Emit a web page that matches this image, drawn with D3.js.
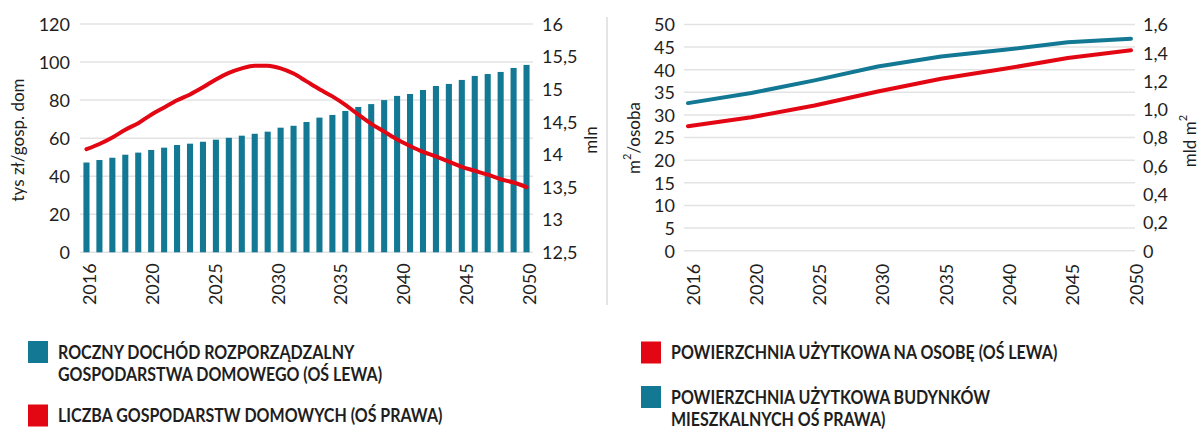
<!DOCTYPE html>
<html>
<head>
<meta charset="utf-8">
<script src="https://cdn.jsdelivr.net/npm/d3@7/dist/d3.min.js"></script>
<style>
  html, body { margin: 0; padding: 0; background: #fff; }
  svg { display: block; font-family: Lato, "Open Sans", sans-serif; }
</style>
</head>
<body>
<svg id="chart" width="1200" height="430"></svg>
<script>
// ---------- DATA ----------
const years = d3.range(2016, 2051);
const xTickLabels = ["2016", "2020", "2025", "2030", "2035", "2040", "2045", "2050"];

// Left chart: annual disposable household income (tys zł / gosp. dom), left axis
const incomeValues = [47.2, 48.5, 49.7, 51.3, 52.4, 53.8, 55.0, 56.4, 57.1, 58.1,
  59.2, 60.2, 61.3, 62.3, 63.4, 65.5, 66.5, 68.5, 70.8, 72.2,
  74.3, 76.4, 77.9, 80.0, 82.2, 83.2, 85.3, 87.4, 88.5, 90.6,
  92.7, 93.7, 94.8, 96.9, 98.5];
// Left chart: number of households (mln), right axis
const householdValues = [14.08, 14.16, 14.26, 14.38, 14.48, 14.61, 14.72, 14.83, 14.92, 15.03,
  15.15, 15.25, 15.32, 15.36, 15.36, 15.32, 15.24, 15.12, 15.00, 14.89,
  14.76, 14.61, 14.47, 14.35, 14.23, 14.13, 14.04, 13.97, 13.89, 13.81,
  13.75, 13.69, 13.62, 13.57, 13.50];

// Right chart (categories = xTickLabels)
const areaPerPerson = [27.5, 29.5, 32.1, 35.2, 38.0, 40.2, 42.6, 44.3];      // m2/osoba, left axis
const totalArea = [1.044, 1.115, 1.205, 1.303, 1.374, 1.421, 1.475, 1.499];  // mld m2, right axis

const leftAxisTicks = [0, 20, 40, 60, 80, 100, 120];
const rightAxisTicks = [12.5, 13, 13.5, 14, 14.5, 15, 15.5, 16];
const right2LeftTicks = [0, 5, 10, 15, 20, 25, 30, 35, 40, 45, 50];
const right2RightTicks = [0, 0.2, 0.4, 0.6, 0.8, 1.0, 1.2, 1.4, 1.6];

const legendLeft = [
  { lines: ["ROCZNY DOCHÓD ROZPORZĄDZALNY", "GOSPODARSTWA DOMOWEGO (OŚ LEWA)"], color: "teal" },
  { lines: ["LICZBA GOSPODARSTW DOMOWYCH (OŚ PRAWA)"], color: "red" }
];
const legendRight = [
  { lines: ["POWIERZCHNIA UŻYTKOWA NA OSOBĘ (OŚ LEWA)"], color: "red" },
  { lines: ["POWIERZCHNIA UŻYTKOWA BUDYNKÓW", "MIESZKALNYCH OŚ PRAWA)"], color: "teal" }
];

// ---------- STYLE ----------
const TEAL = "#127893";
const RED = "#e30613";
const GRID = "#e3e3e3";
const TXT = "#1e1e1e";
const colorOf = c => c === "teal" ? TEAL : RED;
const fmtComma = d => d === 0 ? "0" : String(d).replace(".", ",");
const fmtComma1 = d => d === 0 ? "0" : d.toFixed(1).replace(".", ",");

const svg = d3.select("#chart");

// ---------- LEFT CHART ----------
{
  const L = { x0: 80, x1: 533, yTop: 24, yBot: 252.3 };
  const xBand = d3.scaleBand().domain(years).range([L.x0, L.x1]).paddingInner(0.53).paddingOuter(0.265);
  const xLab = d3.scalePoint().domain(xTickLabels)
    .range([xBand(2016) + xBand.bandwidth() / 2, xBand(2050) + xBand.bandwidth() / 2]);
  const yL = d3.scaleLinear().domain([0, 120]).range([L.yBot, L.yTop]);
  const yR = d3.scaleLinear().domain([12.5, 16]).range([L.yBot, L.yTop]);
  const g = svg.append("g");

  // gridlines
  g.append("g").selectAll("line").data(leftAxisTicks).join("line")
    .attr("x1", L.x0).attr("x2", L.x1)
    .attr("y1", d => yL(d)).attr("y2", d => yL(d))
    .attr("stroke", GRID).attr("stroke-width", 1.5);

  // bars
  g.append("g").selectAll("rect").data(years).join("rect")
    .attr("x", d => xBand(d)).attr("width", xBand.bandwidth())
    .attr("y", (d, i) => yL(incomeValues[i]))
    .attr("height", (d, i) => yL(0) - yL(incomeValues[i]))
    .attr("fill", TEAL);

  // line
  const line = d3.line().curve(d3.curveMonotoneX)
    .x((d, i) => xBand(years[i]) + xBand.bandwidth() / 2)
    .y(d => yR(d));
  g.append("path").datum(householdValues).attr("d", line)
    .attr("fill", "none").attr("stroke", RED).attr("stroke-width", 4).attr("stroke-linecap", "round");

  // left axis
  const axL = d3.axisLeft(yL).tickValues(leftAxisTicks).tickSize(0).tickPadding(0).tickFormat(d3.format("d"));
  g.append("g").attr("transform", `translate(${L.x0 - 10},0)`).call(axL)
    .call(s => s.select(".domain").remove())
    .selectAll("text").attr("font-size", 18).attr("fill", TXT).attr("font-family", "Lato").attr("dy", "0.35em");
  // right axis
  const axR = d3.axisRight(yR).tickValues(rightAxisTicks).tickSize(0).tickPadding(0).tickFormat(fmtComma);
  g.append("g").attr("transform", `translate(${L.x1 + 9},0)`).call(axR)
    .call(s => s.select(".domain").remove())
    .selectAll("text").attr("font-size", 18).attr("fill", TXT).attr("font-family", "Lato").attr("dy", "0.35em");
  // bottom axis labels (rotated)
  const axB = d3.axisBottom(xLab).tickSize(0).tickPadding(0);
  g.append("g").attr("transform", `translate(0,${L.yBot})`).call(axB)
    .call(s => s.select(".domain").remove())
    .selectAll("text").attr("font-size", 18).attr("fill", TXT).attr("font-family", "Lato")
    .attr("text-anchor", "end").attr("dy", null).attr("y", 0)
    .attr("transform", "translate(2,11) rotate(-90)").attr("dominant-baseline", "central");

  // axis titles
  g.append("text").attr("transform", `translate(17,140) rotate(-90)`)
    .attr("text-anchor", "middle").attr("dominant-baseline", "central")
    .attr("font-size", 17).attr("fill", TXT).text("tys zł/gosp. dom");
  g.append("text").attr("transform", `translate(590,140) rotate(-90)`)
    .attr("text-anchor", "middle").attr("dominant-baseline", "central")
    .attr("font-size", 17).attr("fill", TXT).text("mln");
}

// separator
svg.append("line").attr("x1", 607).attr("x2", 607).attr("y1", 17).attr("y2", 305)
  .attr("stroke", "#dddddd").attr("stroke-width", 1.5);

// ---------- RIGHT CHART ----------
{
  const R = { x0: 684, x1: 1135, yTop: 24.5, yBot: 250.7 };
  const x = d3.scalePoint().domain(xTickLabels).range([688, 1131]);
  const yL = d3.scaleLinear().domain([0, 50]).range([R.yBot, R.yTop]);
  const yR = d3.scaleLinear().domain([0, 1.6]).range([R.yBot, R.yTop]);
  const g = svg.append("g");

  g.append("g").selectAll("line").data(right2LeftTicks).join("line")
    .attr("x1", R.x0).attr("x2", R.x1)
    .attr("y1", d => yL(d)).attr("y2", d => yL(d))
    .attr("stroke", GRID).attr("stroke-width", 1.5);

  const lineL = d3.line().x((d, i) => x(xTickLabels[i])).y(d => yL(d));
  const lineR = d3.line().x((d, i) => x(xTickLabels[i])).y(d => yR(d));
  g.append("path").datum(totalArea).attr("d", lineR)
    .attr("fill", "none").attr("stroke", TEAL).attr("stroke-width", 4).attr("stroke-linecap", "round").attr("stroke-linejoin", "round");
  g.append("path").datum(areaPerPerson).attr("d", lineL)
    .attr("fill", "none").attr("stroke", RED).attr("stroke-width", 4).attr("stroke-linecap", "round").attr("stroke-linejoin", "round");

  const axL = d3.axisLeft(yL).tickValues(right2LeftTicks).tickSize(0).tickPadding(0).tickFormat(d3.format("d"));
  g.append("g").attr("transform", `translate(${675},0)`).call(axL)
    .call(s => s.select(".domain").remove())
    .selectAll("text").attr("font-size", 18).attr("fill", TXT).attr("font-family", "Lato").attr("dy", "0.35em");
  const axR = d3.axisRight(yR).tickValues(right2RightTicks).tickSize(0).tickPadding(0).tickFormat(fmtComma1);
  g.append("g").attr("transform", `translate(${1143},0)`).call(axR)
    .call(s => s.select(".domain").remove())
    .selectAll("text").attr("font-size", 18).attr("fill", TXT).attr("font-family", "Lato").attr("dy", "0.35em");
  const axB = d3.axisBottom(x).tickSize(0).tickPadding(0);
  g.append("g").attr("transform", `translate(0,${R.yBot})`).call(axB)
    .call(s => s.select(".domain").remove())
    .selectAll("text").attr("font-size", 18).attr("fill", TXT).attr("font-family", "Lato")
    .attr("text-anchor", "end").attr("dy", null).attr("y", 0)
    .attr("transform", "translate(4,13) rotate(-90)").attr("dominant-baseline", "central");

  const t1 = g.append("text").attr("transform", `translate(633,138) rotate(-90)`)
    .attr("text-anchor", "middle").attr("dominant-baseline", "central")
    .attr("font-size", 17).attr("fill", TXT);
  t1.append("tspan").text("m");
  t1.append("tspan").attr("font-size", 11).attr("dy", "-0.6em").text("2");
  t1.append("tspan").attr("dy", "0.4em").text("/osoba");
  const t2 = g.append("text").attr("transform", `translate(1189,141) rotate(-90)`)
    .attr("text-anchor", "middle").attr("dominant-baseline", "central")
    .attr("font-size", 17).attr("fill", TXT);
  t2.append("tspan").text("mld m");
  t2.append("tspan").attr("font-size", 11).attr("dy", "-0.6em").text("2");
}

// ---------- LEGENDS ----------
function drawLegend(items, x, ys, gap) {
  const g = svg.append("g");
  items.forEach((it, k) => {
    const y = ys[k];
    g.append("rect").attr("x", x).attr("y", y).attr("width", 20).attr("height", 22).attr("fill", colorOf(it.color));
    const t = g.append("text")
      .attr("transform", `translate(${x + 30},${y + 17.5}) scale(0.87,1)`)
      .attr("font-size", 18.4).attr("font-weight", 700).attr("fill", TXT);
    it.lines.forEach((ln, j) => {
      t.append("tspan").attr("x", 0).attr("dy", j === 0 ? 0 : gap[k]).text(ln);
    });
  });
}
drawLegend(legendLeft, 28, [341, 404.5], [22.5, 22.5]);
drawLegend(legendRight, 641, [341.5, 386], [22.5, 22.3]);
</script>
</body>
</html>
